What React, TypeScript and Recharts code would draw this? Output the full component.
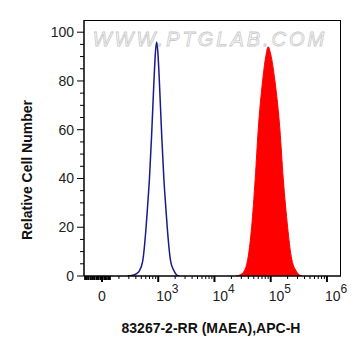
import { ComposedChart, Area, Line, XAxis, YAxis } from 'recharts'

// x positions are in display decades: 2 = "0", 3 = 10^3, 4 = 10^4 ...
const blueX = [2.456, 2.545, 2.616, 2.661, 2.723, 2.784, 2.812, 2.844, 2.883, 2.924, 2.951, 2.972, 2.993, 3.02, 3.061, 3.1, 3.132, 3.16, 3.221, 3.283, 3.328, 3.37]
const blueY = [0, 0.3, 1, 2, 6, 20, 29, 40, 58, 80, 92, 96, 92, 80, 58, 40, 29, 20, 6, 2, 0.4, 0]

const redX = [4.387, 4.458, 4.529, 4.6, 4.661, 4.725, 4.778, 4.856, 4.912, 4.956, 5.0, 5.075, 5.164, 5.223, 5.301, 5.365, 5.454, 5.507, 5.56]
const redY = [0, 0.5, 2, 8, 20, 40, 60, 80, 90, 94, 91, 80, 60, 40, 20, 8, 2, 0.5, 0]

const majorX = [2, 3, 4, 5, 6]
const majorXLabels = ['0', '3', '4', '5', '6']
const clusterX = [1.7, 1.73, 1.76, 1.8, 1.83, 1.86, 1.9, 1.93, 1.97, 2.04, 2.07, 2.11, 2.14]
const yTicks = [0, 5, 10, 15, 20, 25, 30, 35, 40, 45, 50, 55, 60, 65, 70, 75, 80, 85, 90, 95, 100]

const minorX: number[] = []
for (const d of [2, 3, 4, 5]) {
  for (let k = 2; k <= 9; k++) minorX.push(d + Math.log10(k))
}
const xTicks = [...clusterX, ...majorX, ...minorX].sort((a, b) => a - b)

const blueData = blueX.map((x, i) => ({ x, y: blueY[i] }))
const redData = redX.map((x, i) => ({ x, y: redY[i] }))

const FONT = '"Liberation Sans", Arial, sans-serif'

function XTick(props: any) {
  const { x, y, payload } = props
  const i = majorX.indexOf(payload.value)
  const major = i >= 0
  const cluster = clusterX.includes(payload.value)
  return (
    <g>
      <line
        x1={x}
        x2={x}
        y1={y}
        y2={y + (major ? 6 : cluster ? 4 : 3)}
        stroke="#000"
        strokeWidth={major || cluster ? 2 : 1}
      />
      {major && i === 0 && (
        <text x={x} y={y + 25} textAnchor="middle" fontSize={14} fill="#222" fontFamily={FONT}>0</text>
      )}
      {major && i > 0 && (
        <text x={x - 2} y={y + 25} textAnchor="start" fontSize={14} fill="#222" fontFamily={FONT}>
          10<tspan dy={-8} fontSize={12}>{majorXLabels[i]}</tspan>
        </text>
      )}
    </g>
  )
}

function YTick(props: any) {
  const { x, y, payload } = props
  const major = payload.value % 20 === 0
  return (
    <g>
      <line x1={x - (major ? 7 : 4)} x2={x} y1={y} y2={y} stroke="#000" strokeWidth={1} />
      {major && (
        <text x={x - 10} y={y + 5} textAnchor="end" fontSize={14} fill="#222" fontFamily={FONT}>
          {payload.value}
        </text>
      )}
    </g>
  )
}

export default function App() {
  return (
    <div style={{ position: 'absolute', left: 0, top: 0, width: 361, height: 356, background: '#fff', fontFamily: FONT }}>
      <ComposedChart width={361} height={356} margin={{ top: 20, right: 20, bottom: 50, left: 24 }}>
        <XAxis
          type="number"
          dataKey="x"
          domain={[1.68, 6.25]}
          ticks={xTicks}
          interval={0}
          allowDataOverflow
          tickSize={0}
          tickMargin={0}
          tickLine={false}
          tick={<XTick />}
          axisLine={{ stroke: '#000', strokeWidth: 1.5 }}
          height={30}
        />
        <YAxis
          type="number"
          domain={[0, 105]}
          ticks={yTicks}
          interval={0}
          allowDataOverflow
          tickSize={0}
          tickMargin={0}
          tickLine={false}
          tick={<YTick />}
          axisLine={{ stroke: '#000', strokeWidth: 1.5 }}
          width={60}
        />
        <Area
          data={redData}
          dataKey="y"
          type="monotone"
          fill="#ff0000"
          fillOpacity={1}
          stroke="#ff0000"
          strokeWidth={1}
          isAnimationActive={false}
          dot={false}
          activeDot={false}
        />
        <Line
          data={blueData}
          dataKey="y"
          type="monotone"
          stroke="#1a1a8c"
          strokeWidth={1.5}
          dot={false}
          activeDot={false}
          isAnimationActive={false}
        />
      </ComposedChart>
      <div style={{ position: 'absolute', left: 84, top: 20, width: 257, height: 256, borderTop: '1px solid #000', borderRight: '1px solid #000', boxSizing: 'border-box', pointerEvents: 'none' }} />
      <svg width={361} height={356} style={{ position: 'absolute', left: 0, top: 0, pointerEvents: 'none' }}>
        <text x={210} y={46} textAnchor="middle" fontSize={20} fontStyle="italic" letterSpacing={3} fill="rgba(255,255,255,0.6)" stroke="#c8c8c8" strokeWidth={0.8} fontFamily={FONT}>
          WWW.PTGLAB.COM
        </text>
        <text x={211} y={333} textAnchor="middle" fontSize={14} fontWeight="bold" fill="#111" fontFamily={FONT}>
          83267-2-RR (MAEA),APC-H
        </text>
        <text transform="translate(32,170) rotate(-90)" textAnchor="middle" fontSize={14} fontWeight="bold" fill="#111" fontFamily={FONT}>
          Relative Cell Number
        </text>
      </svg>
    </div>
  )
}
